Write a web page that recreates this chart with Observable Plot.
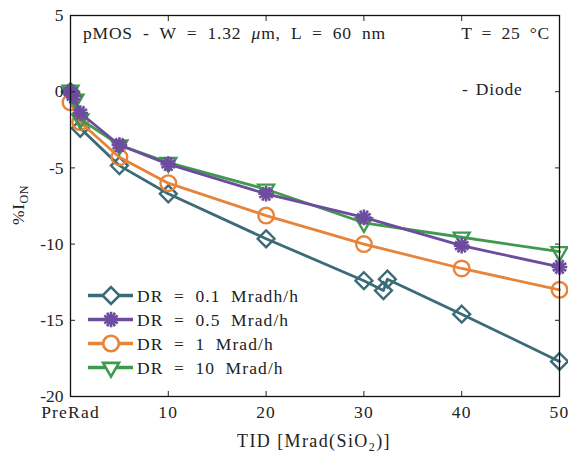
<!DOCTYPE html>
<html><head><meta charset="utf-8">
<script src="https://cdn.jsdelivr.net/npm/d3@7"></script>
<script src="https://cdn.jsdelivr.net/npm/@observablehq/plot@0.6"></script>
<style>body{margin:0;background:#fff} #chart svg{display:block}</style>
</head><body><div id="chart"></div>
<script>
// ---- data ----
const seriesNames = ["DR = 0.1 Mradh/h", "DR = 0.5 Mrad/h", "DR = 1 Mrad/h", "DR = 10 Mrad/h"];
const seriesColors = ["#3a6b77", "#6d4c9f", "#e8833a", "#3f9a4e"];
const seriesSymbols = ["diamond2", "asterisk", "circle", "triangle2"];

const tid01 = [0, 1, 5, 10, 20, 30, 32, 32.4, 40, 50];
const ion01 = [0, -2.4, -4.85, -6.7, -9.65, -12.4, -13.05, -12.3, -14.6, -17.7];
const tid05 = [0, 0.3, 1, 5, 10, 20, 30, 40, 50];
const ion05 = [0, -0.3, -1.4, -3.5, -4.75, -6.7, -8.25, -10.1, -11.5];
const tid1 = [0, 1, 5, 10, 20, 30, 40, 50];
const ion1 = [-0.7, -2.0, -4.3, -6.0, -8.13, -10.0, -11.6, -13.0];
const tid10 = [0, 0.5, 1, 5, 10, 20, 30, 40, 50];
const ion10 = [0.1, -0.5, -1.8, -3.5, -4.65, -6.4, -8.6, -9.55, -10.5];

const xTickValues = [0, 10, 20, 30, 40, 50];
const xTickLabels = ["PreRad", "10", "20", "30", "40", "50"];
const xInnerTicks = [10, 20, 30, 40];
const yTickValues = [5, 0, -5, -10, -15, -20];
const yInnerTicks = [0, -5, -10, -15];

const titleText = "pMOS - W = 1.32 ";
const tempText = "T = 25 °C";
const diodeText = "- Diode";

// ---- build ----
const seriesData = [
  {i: 0, tid: tid01, ion: ion01},
  {i: 1, tid: tid05, ion: ion05},
  {i: 2, tid: tid1, ion: ion1},
  {i: 3, tid: tid10, ion: ion10}
];
const drawOrder = [0, 2, 3, 1];
const rows = seriesData.map(s => s.tid.map((t, k) => ({series: seriesNames[s.i], tid: t, ion: s.ion[k]})));

const W = 568, H = 455;
const fontFam = "'Liberation Serif', 'Times New Roman', serif";
const R = {0: 7.6, 1: 7.4, 2: 7.8, 3: 7.6};

const marks = [];
for (const i of drawOrder) {
  const c = seriesColors[i];
  marks.push(Plot.line(rows[i], {x: "tid", y: "ion", stroke: c, strokeWidth: 2.8}));
  if (i === 1) {
    marks.push(Plot.dot(rows[i], {x: "tid", y: "ion", symbol: "asterisk", r: R[1], stroke: c, strokeWidth: 2.6}));
    marks.push(Plot.dot(rows[i], {x: "tid", y: "ion", symbol: "asterisk", r: R[1], stroke: c, strokeWidth: 2.6, rotate: 90}));
  } else if (i === 3) {
    marks.push(Plot.dot(rows[i], {x: "tid", y: "ion", symbol: "triangle2", r: R[3], stroke: c, strokeWidth: 2.4, fill: "none", rotate: 180}));
  } else {
    marks.push(Plot.dot(rows[i], {x: "tid", y: "ion", symbol: seriesSymbols[i], r: R[i], stroke: c, strokeWidth: 2.4, fill: "none"}));
  }
}

const chart = Plot.plot({
  width: W, height: H,
  marginLeft: 70, marginRight: 9, marginTop: 15, marginBottom: 59,
  style: {fontFamily: fontFam, fontSize: "17.5px", color: "#222", background: "#fff"},
  x: {domain: [0, 50]},
  y: {domain: [-20, 5]},
  marks: [
    ...marks,
    Plot.frame({stroke: "#111", strokeWidth: 1.3}),
    Plot.axisX({anchor: "bottom", ticks: xTickValues, tickSize: 0, tickPadding: 9, label: null,
      tickFormat: d => xTickLabels[xTickValues.indexOf(d)]}),
    Plot.axisX({anchor: "bottom", ticks: xInnerTicks, tickSize: -5, tickFormat: () => "", label: null}),
    Plot.axisX({anchor: "top", ticks: xInnerTicks, tickSize: -5, tickFormat: () => "", label: null}),
    Plot.axisY({anchor: "left", ticks: yTickValues, tickSize: 0, tickPadding: 7, label: null,
      tickFormat: d => String(d)}),
    Plot.axisY({anchor: "left", ticks: yInnerTicks, tickSize: -5, tickFormat: () => "", label: null}),
    Plot.axisY({anchor: "right", ticks: yInnerTicks, tickSize: -5, tickFormat: () => "", label: null})
  ]
});
document.getElementById("chart").appendChild(chart);

// ---- annotations, axis titles, legend ----
const svg = d3.select(chart);
svg.selectAll("[aria-label='x-axis tick label'] text").attr("letter-spacing", "1.2px");
const ann = svg.append("g").attr("font-family", fontFam).attr("font-size", "17.5px").attr("fill", "#222")
  .attr("text-anchor", "start");

const t1 = ann.append("text").attr("x", 83).attr("y", 39).attr("text-anchor", "start").attr("letter-spacing", "0.8px").attr("word-spacing", "5px");
t1.append("tspan").text(titleText);
t1.append("tspan").attr("font-style", "italic").text("μ");
t1.append("tspan").text("m, L = 60 nm");
ann.append("text").attr("x", 550).attr("y", 39).attr("text-anchor", "end").attr("letter-spacing", "0.8px").attr("word-spacing", "4px").text(tempText);
ann.append("text").attr("x", 462).attr("y", 95).attr("text-anchor", "start").attr("letter-spacing", "0.8px").attr("word-spacing", "2px").text(diodeText);

const yl = ann.append("text").attr("transform", "translate(24,205) rotate(-90)").attr("text-anchor", "middle").attr("letter-spacing", "0.5px");
yl.append("tspan").text("%I");
yl.append("tspan").attr("font-size", "12px").attr("dy", 4).text("ON");

const xl = ann.append("text").attr("x", 314).attr("y", 447).attr("text-anchor", "middle").attr("font-size", "18px").attr("letter-spacing", "1.4px");
xl.append("tspan").text("TID [Mrad(SiO");
xl.append("tspan").attr("font-size", "12px").attr("dy", 4).text("2");
xl.append("tspan").attr("dy", -4).text(")]");

const lg = svg.append("g");
const legendRowsY = [295.5, 319.5, 343.5, 367.5];
const symMap = {diamond2: d3.symbolDiamond2, asterisk: d3.symbolAsterisk, circle: d3.symbolCircle, triangle2: d3.symbolTriangle2};
seriesNames.forEach((name, i) => {
  const y = legendRowsY[i], c = seriesColors[i];
  lg.append("line").attr("x1", 88).attr("x2", 133).attr("y1", y).attr("y2", y).attr("stroke", c).attr("stroke-width", 3.5);
  const size = Math.PI * R[i] * R[i];
  const p = d3.symbol(symMap[seriesSymbols[i]], size)();
  if (i === 1) {
    lg.append("path").attr("d", p).attr("transform", `translate(111,${y})`).attr("stroke", c).attr("stroke-width", 2.6).attr("fill", "none");
    lg.append("path").attr("d", p).attr("transform", `translate(111,${y}) rotate(90)`).attr("stroke", c).attr("stroke-width", 2.6).attr("fill", "none");
  } else {
    lg.append("path").attr("d", p).attr("transform", `translate(111,${y})` + (i === 3 ? " rotate(180)" : ""))
      .attr("stroke", c).attr("stroke-width", 2.6).attr("fill", "#fff");
  }
  lg.append("text").attr("x", 137).attr("y", y + 6).attr("text-anchor", "start").attr("font-family", fontFam).attr("font-size", "17.5px")
    .attr("fill", "#222").attr("letter-spacing", "1.1px").attr("word-spacing", "5px").text(name);
});
</script>
</body></html>
